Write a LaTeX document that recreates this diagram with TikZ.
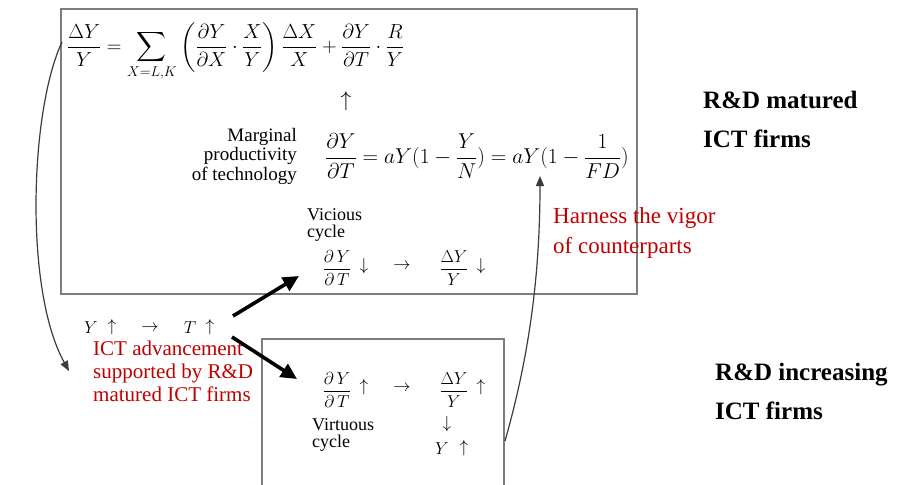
\RequirePackage{fix-cm}
\documentclass[tikz,border=0pt]{standalone}
\usepackage{amsmath}
\usepackage{fontspec}
\setmainfont{Liberation Serif}
\newfontfamily\tnr{Liberation Serif}
\usetikzlibrary{arrows.meta}
\definecolor{redtxt}{RGB}{192,0,0}
\definecolor{boxgray}{RGB}{125,125,125}
\definecolor{arrgray}{RGB}{60,60,60}
\tikzset{
  box/.style={draw=boxgray, line width=1.1pt},
  bigmath/.style={inner sep=0pt, font=\fontsize{20.3}{24}\selectfont},
  midmath/.style={inner sep=0pt, font=\fontsize{21.5}{26}\selectfont},
  smallmath/.style={inner sep=0pt, font=\fontsize{17.28}{20}\selectfont},
  lbl/.style={inner sep=0pt, font=\tnr\fontsize{19}{19.5}\selectfont},
  cyc/.style={inner sep=0pt, align=left, font=\tnr\fontsize{18}{17.5}\selectfont},
  redlbl/.style={inner sep=0pt, align=left, text=redtxt},
  firm/.style={inner sep=0pt, align=left, font=\tnr\fontsize{25}{39}\selectfont\bfseries},
  thickarr/.style={line width=3.6pt, -{Triangle[length=16pt,width=15pt]}},
  curvarr/.style={draw=arrgray, line width=1.2pt, -{Triangle[length=10pt,width=8pt]}}
}
\begin{document}
\begin{tikzpicture}[x=1pt,y=-1pt]
\useasboundingbox (0,0) rectangle (898,485);
% boxes
\draw[box] (61,9) rectangle (637,294);
\draw[box] (262,485) -- (262,339) -- (504,339) -- (504,485);
% top equation
\node[bigmath, anchor=west] (eq1) at (67,52)
  {$\displaystyle \frac{\Delta Y}{Y}=\sum_{X=L,K}\left(\frac{\partial Y}{\partial X}\cdot\frac{X}{Y}\right)\frac{\Delta X}{X}+\frac{\partial Y}{\partial T}\cdot\frac{R}{Y}$};
\node[midmath] (up1) at (346,101) {$\uparrow$};
% marginal productivity
\node[lbl, anchor=east, align=right] (marg) at (297,156) {Marginal\\productivity\\of technology};
\node[midmath, anchor=west] (eq2) at (325,156)
  {$\displaystyle \frac{\partial Y}{\partial T}=aY(1-\frac{Y}{N})=aY(1-\frac{1}{FD})$};
% vicious cycle
\node[cyc, anchor=north west] (vic) at (307,208) {Vicious\\cycle};
\node[smallmath] (vd1) at (337,268) {$\displaystyle\frac{\partial\, Y}{\partial\, T}$};
\node[smallmath] (vda) at (364,266) {$\downarrow$};
\node[smallmath] (vto) at (402,266) {$\rightarrow$};
\node[smallmath] (vd2) at (454,268) {$\displaystyle\frac{\Delta Y}{Y}$};
\node[smallmath] (vdb) at (481,266) {$\downarrow$};
% harness
\node[redlbl, anchor=north west, font=\tnr\fontsize{23}{30}\selectfont] (harn) at (553,207) {Harness the vigor\\of counterparts};
% Y up -> T up
\node[smallmath] (yy) at (91,328) {$Y$};
\node[smallmath] (yya) at (112,327) {$\uparrow$};
\node[smallmath] (yto) at (150,328) {$\rightarrow$};
\node[smallmath] (tt) at (190,328) {$T$};
\node[smallmath] (tta) at (210,327) {$\uparrow$};
\node[redlbl, anchor=north west, font=\tnr\fontsize{21}{23}\selectfont] (ict) at (93,341) {ICT advancement\\supported by R\&D\\matured ICT firms};
% virtuous cycle
\node[smallmath] (pd1) at (337,390) {$\displaystyle\frac{\partial\, Y}{\partial\, T}$};
\node[smallmath] (pua) at (364,387) {$\uparrow$};
\node[smallmath] (pto) at (402,388) {$\rightarrow$};
\node[smallmath] (pd2) at (454,390) {$\displaystyle\frac{\Delta Y}{Y}$};
\node[smallmath] (pub) at (481,387) {$\uparrow$};
\node[smallmath] (pdn) at (447,424) {$\downarrow$};
\node[smallmath] (py) at (442,449) {$Y$};
\node[smallmath] (pya) at (464,448) {$\uparrow$};
\node[cyc, anchor=north west] (virt) at (312,418) {Virtuous\\cycle};
% right labels
\node[firm, anchor=north west] (f1) at (703,91) {R\&D matured\\ICT firms};
\node[firm, anchor=north west] (f2) at (715,363) {R\&D increasing\\ICT firms};
% thick arrows
\coordinate (a1s) at (233,316);
\coordinate (a1e) at (299,276);
\coordinate (a2s) at (232,337);
\coordinate (a2e) at (297,379);
\draw[thickarr] (a1s) -- (a1e);
\draw[thickarr] (a2s) -- (a2e);
% curved arrows
\coordinate (cls) at (62,42);
\coordinate (cle) at (69,371);
\draw[curvarr] (cls) .. controls (30,110) and (24,290) .. (cle);
\coordinate (crs) at (505,441);
\coordinate (cre) at (540,176);
\draw[curvarr] (crs) .. controls (528,360) and (540,280) .. (cre);
\end{tikzpicture}
\end{document}
